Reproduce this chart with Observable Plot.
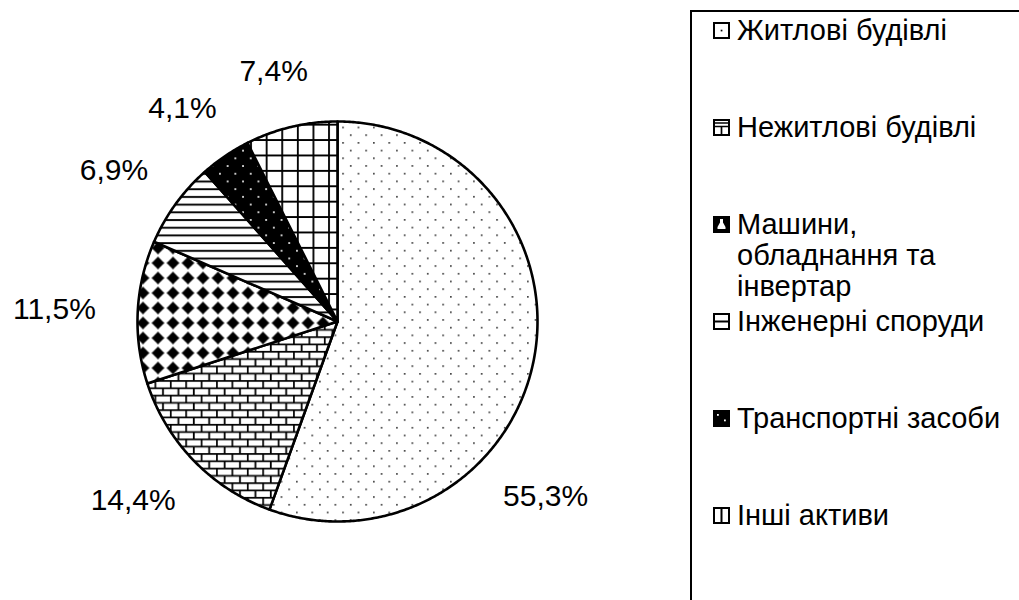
<!DOCTYPE html>
<html>
<head>
<meta charset="utf-8">
<script src="https://cdn.jsdelivr.net/npm/d3@7"></script>
<script src="https://cdn.jsdelivr.net/npm/@observablehq/plot@0.6"></script>
<style>
  html, body { margin: 0; padding: 0; background: #fff; }
  #wrap { position: relative; width: 1019px; height: 600px; overflow: hidden;
          font-family: "Liberation Sans", Arial, sans-serif; color: #000; }
  #chart { position: absolute; left: 0; top: 0; }
  #legendBox { position: absolute; left: 690px; top: 10px; width: 420px; height: 700px;
               border: 2px solid #000; box-sizing: border-box; }
  .lg-marker { position: absolute; width: 17px; height: 17px; }
  .lg-text { position: absolute; width: 272px; font-size: 29px; line-height: 31px; white-space: normal; }
</style>
</head>
<body>
<svg width="0" height="0" style="position:absolute">
  <defs>
    <pattern id="p-dots" patternUnits="userSpaceOnUse" width="15.4" height="15.4">
      <rect width="15.4" height="15.4" fill="#fff"/>
      <rect x="3" y="3" width="1.5" height="1.5" fill="#111"/>
      <rect x="10.7" y="10.7" width="1.5" height="1.5" fill="#111"/>
    </pattern>
    <pattern id="p-brick" patternUnits="userSpaceOnUse" width="15.4" height="14.6">
      <rect width="15.4" height="14.6" fill="#fff"/>
      <path d="M0 0.8H15.4M0 8.1H15.4M0.8 0.8V8.1M8.5 8.1V15.4" stroke="#000" stroke-width="1.8"/>
    </pattern>
    <pattern id="p-diamond" patternUnits="userSpaceOnUse" width="15" height="15">
      <rect width="15" height="15" fill="#fff"/>
      <path d="M7.5 1L10.5 4.5L14 7.5L10.5 10.5L7.5 14L4.5 10.5L1 7.5L4.5 4.5Z" fill="#000"/>
      <circle cx="7.5" cy="7.5" r="4.4" fill="#000"/>
    </pattern>
    <pattern id="p-hlines" patternUnits="userSpaceOnUse" width="10" height="7.7">
      <rect width="10" height="7.7" fill="#fff"/>
      <rect y="3" width="10" height="1.9" fill="#000"/>
    </pattern>
    <pattern id="p-blackdots" patternUnits="userSpaceOnUse" width="15.4" height="15.4">
      <rect width="15.4" height="15.4" fill="#000"/>
      <rect x="3" y="3" width="1.7" height="1.7" fill="#fff"/>
      <rect x="10.7" y="10.7" width="1.7" height="1.7" fill="#fff"/>
    </pattern>
    <pattern id="p-grid" patternUnits="userSpaceOnUse" width="15.6" height="15.4">
      <rect width="15.6" height="15.4" fill="#fff"/>
      <path d="M0 0.9H15.6M0.9 0V15.4" stroke="#000" stroke-width="1.9"/>
    </pattern>
  </defs>
</svg>
<div id="wrap">
  <div id="chart"></div>
  <div id="legendBox"></div>
</div>
<script>
// ---- data ----
const categories = [
  "Житлові будівлі",
  "Нежитлові будівлі",
  "Машини, обладнання та інвертар",
  "Інженерні споруди",
  "Транспортні засоби",
  "Інші активи"
];
const shares = [55.3, 14.4, 11.5, 6.9, 4.1, 7.4];

// ---- styling / layout (not data) ----
const patternKeys = ["dots", "brick", "diamond", "hlines", "blackdots", "grid"];
const W = 1019, H = 600;
const cx = 337, cy = 321, R = 200;
const labelFont = 30;
const labelGap = 42;                     // px between arc and label box
const labelAngleOverride = {"Житлові будівлі": 133}; // degrees, Excel-moved label

const data = categories.map((c, i) => ({category: c, value: shares[i], key: patternKeys[i]}));
const arcs = d3.pie().sort(null).value(d => d.value)(data);

// slice polygons in unit coordinates (y up), derived from the pie angles
const slices = arcs.map(a => {
  const pts = [{x: 0, y: 0}];
  const step = Math.PI / 360;
  const n = Math.max(2, Math.ceil((a.endAngle - a.startAngle) / step));
  for (let j = 0; j <= n; j++) {
    const t = a.startAngle + (a.endAngle - a.startAngle) * j / n;
    pts.push({x: Math.sin(t), y: Math.cos(t)});
  }
  return {key: a.data.key, points: pts};
});

// label positions
const ctx = document.createElement("canvas").getContext("2d");
ctx.font = `${labelFont}px "Liberation Sans"`;
const fmt = v => v.toFixed(1).replace(".", ",") + "%";
const labels = arcs.map(a => {
  const text = fmt(a.data.value);
  const deg = labelAngleOverride[a.data.category];
  const t = deg != null ? deg * Math.PI / 180 : (a.startAngle + a.endAngle) / 2;
  const sx = Math.sin(t), sy = Math.cos(t);
  const w = ctx.measureText(text).width, h = labelFont;
  const px = (R + labelGap) * sx + sx * w / 2;
  const py = (R + labelGap) * sy + sy * h / 2;
  return {x: px / R, y: py / R, text};
});

const chart = Plot.plot({
  width: W,
  height: H,
  margin: 0,
  x: {domain: [-1, 1], range: [cx - R, cx + R], axis: null},
  y: {domain: [-1, 1], range: [cy + R, cy - R], axis: null},
  style: {fontFamily: '"Liberation Sans", Arial, sans-serif', background: "transparent", overflow: "visible"},
  marks: [
    ...slices.map(s => Plot.line(s.points, {
      x: "x", y: "y", curve: "linear-closed",
      fill: `url(#p-${s.key})`, stroke: "#000", strokeWidth: 2.6, strokeLinejoin: "round"
    })),
    Plot.text(labels, {x: "x", y: "y", text: "text", fontSize: labelFont, fill: "#000"})
  ]
});
document.getElementById("chart").appendChild(chart);

// ---- legend ----
const markerSvg = {
  dots: '<rect x="1" y="1" width="15" height="15" fill="#fff" stroke="#000" stroke-width="2"/><rect x="7.7" y="7.7" width="1.7" height="1.7" fill="#000"/>',
  brick: '<rect x="1" y="1" width="15" height="15" fill="#fff" stroke="#000" stroke-width="2"/><path d="M1 7.5H16M8.5 7.5V16M1 4H16" stroke="#000" stroke-width="1.7" fill="none"/>',
  diamond: '<rect x="1" y="1" width="15" height="15" fill="#000" stroke="#000" stroke-width="2"/><path d="M7 3H10V6.5L12.5 11V13H4.5V11L7 6.5Z" fill="#fff"/>',
  hlines: '<rect x="1" y="1" width="15" height="15" fill="#fff" stroke="#000" stroke-width="2"/><path d="M1 8.5H16" stroke="#000" stroke-width="2"/>',
  blackdots: '<rect x="1" y="1" width="15" height="15" fill="#000" stroke="#000" stroke-width="2"/><rect x="4" y="4" width="1.8" height="1.8" fill="#fff"/><rect x="11" y="9.5" width="1.8" height="1.8" fill="#fff"/>',
  grid: '<rect x="1" y="1" width="15" height="15" fill="#fff" stroke="#000" stroke-width="2"/><path d="M8.5 1V16" stroke="#000" stroke-width="2"/>'
};
const wrap = document.getElementById("wrap");
const legendFirst = 31, legendStep = 97;
data.forEach((d, i) => {
  const yc = legendFirst + legendStep * i;
  const m = document.createElement("div");
  m.className = "lg-marker";
  m.style.left = "713px";
  m.style.top = (yc - 9) + "px";
  m.innerHTML = `<svg width="17" height="17" viewBox="0 0 17 17">${markerSvg[d.key]}</svg>`;
  wrap.appendChild(m);
  const t = document.createElement("div");
  t.className = "lg-text";
  t.style.left = "737px";
  t.style.top = (yc - 16) + "px";
  t.textContent = d.category;
  wrap.appendChild(t);
});
</script>
</body>
</html>
